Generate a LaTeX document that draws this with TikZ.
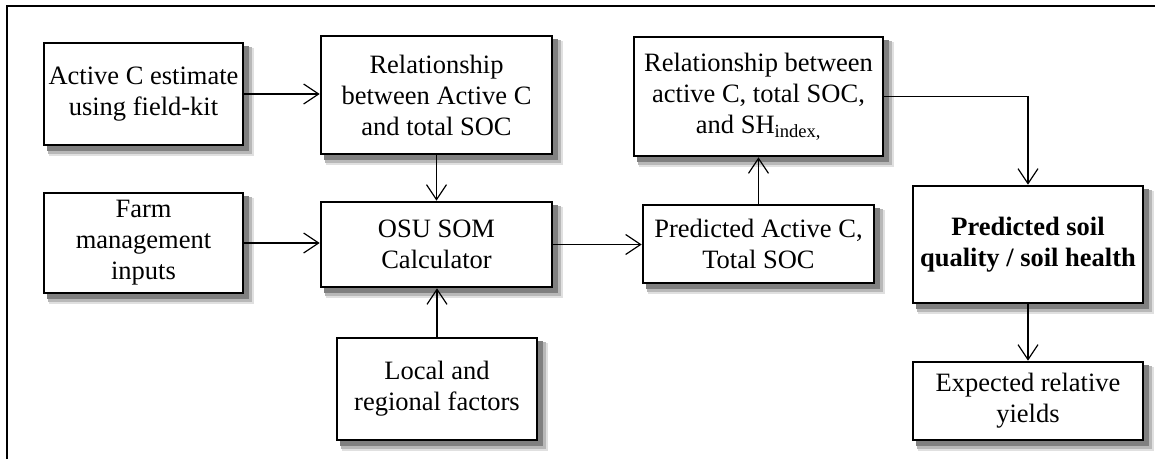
\documentclass[tikz,border=0pt]{standalone}
\usepackage{fontspec}
\setmainfont{Liberation Serif}
\usetikzlibrary{arrows.meta,calc,backgrounds}
\begin{document}
\begin{tikzpicture}[x=1pt,y=-1pt,
  box/.style={draw=black, line width=2.6pt, fill=white, align=center, inner sep=0pt,
    font=\fontsize{26.5}{31}\selectfont},
  conn/.style={line width=1.2pt, -{Straight Barb[length=15pt,width=20pt,line width=1.2pt]}},
  frameline/.style={line width=2pt},
  shadowa/.style={fill=black!12},
  shadowb/.style={fill=black!28},
  shadowc/.style={fill=black!50}]
\useasboundingbox (0,0) rectangle (1155,459);
\draw[frameline] (7,459) -- (7,6) -- (1155,6);
\node[box, minimum width=199pt, minimum height=102pt] (A) at (143.5,94) {Active C estimate\\using field-kit};
\node[box, minimum width=231pt, minimum height=118pt] (B) at (436.5,95) {Relationship\\between Active C\\and total SOC};
\node[box, minimum width=199pt, minimum height=100pt] (F) at (143.5,243) {Farm\\management\\inputs};
\node[box, minimum width=231pt, minimum height=85pt] (O) at (436.5,244.5) {OSU SOM\\Calculator};
\node[box, minimum width=200pt, minimum height=102pt] (L) at (437,389) {Local and\\regional factors};
\node[box, minimum width=249pt, minimum height=119pt] (R) at (758.5,96.5) {Relationship between\\active C, total SOC,\\and SH\textsubscript{index,}};
\node[box, minimum width=231pt, minimum height=78pt] (P) at (758.5,244) {Predicted Active C,\\Total SOC};
\node[box, minimum width=230pt, minimum height=117pt, font=\fontsize{26.5}{31}\selectfont\bfseries] (S) at (1028,244.5) {Predicted soil\\quality / soil health};
\node[box, minimum width=230pt, minimum height=78pt] (E) at (1028,401) {Expected relative\\yields};
\begin{pgfonlayer}{background}
\foreach \n in {A,B,F,O,L,R,P,S,E}{
  \fill[shadowa] ($(\n.north west)+(6,6)$) rectangle ($(\n.south east)+(10,10)$);
  \fill[shadowb] ($(\n.north west)+(5,5)$) rectangle ($(\n.south east)+(7.5,7.5)$);
  \fill[shadowc] ($(\n.north west)+(4,4)$) rectangle ($(\n.south east)+(5,5)$);
}
\end{pgfonlayer}
\draw[conn] (A.east) -- (A.east -| B.west);
\draw[conn] (B) -- (O);
\draw[conn] (F.east) -- (F.east -| O.west);
\draw[conn] (L.north) -- (L.north |- O.south);
\draw[conn] (O.east) -- (O.east -| P.west);
\draw[conn] (P.north) -- (P.north |- R.south);
\draw[conn] (R.east) -| (S.north);
\draw[conn] (S) -- (E);
\end{tikzpicture}
\end{document}
